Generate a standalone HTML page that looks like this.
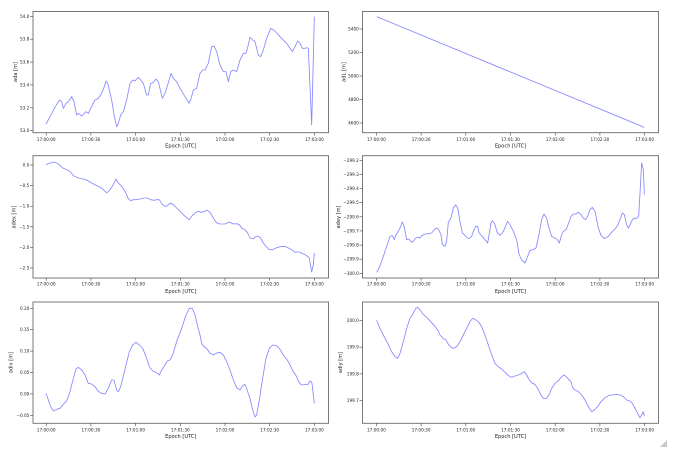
<!DOCTYPE html>
<html><head><meta charset="utf-8"><style>
html,body{margin:0;padding:0;background:#fff;}
svg{display:block;}
text{font-family:"DejaVu Sans","Liberation Sans",sans-serif;fill:#222;}
.t{font-size:4.2px;}
.l{font-size:5.1px;}
.ax{fill:none;stroke:#6a6a6a;stroke-width:0.9;}
.tk{stroke:#444;stroke-width:0.6;}
.d{fill:none;stroke:#8787ff;stroke-width:0.85;vector-effect:non-scaling-stroke;stroke-linejoin:round;}
</style></head><body>
<svg width="690" height="451" viewBox="0 0 690 451" xmlns="http://www.w3.org/2000/svg">
<rect width="690" height="451" fill="#fff"/>

<!-- ============ TOP LEFT ============ -->
<polyline class="d" transform="translate(0,0) scale(0.33333)" points="138,372 150,350 165,322 178,300 185,305 190,325 198,310 205,305 215,290 222,305 230,345 235,340 245,348 258,335 265,340 272,325 285,300 295,295 305,280 312,262 318,243 323,250 335,300 343,350 350,380 355,370 362,345 370,335 380,300 390,250 398,240 405,243 415,232 422,240 430,250 440,285 445,285 452,250 460,248 468,237 475,245 487,295 495,280 503,255 513,220 520,235 530,245 540,265 555,290 567,310 572,300 580,270 590,265 600,220 608,210 615,210 625,190 635,140 642,138 650,155 660,195 670,215 678,215 685,245 692,215 700,210 710,215 720,180 730,160 738,160 745,135 750,112 758,120 765,125 775,165 782,170 790,150 800,115 812,85 822,90 840,110 860,130 877,155 885,140 893,123 900,130 907,145 915,145 920,143 925,145 935,375 943,50"/>
<rect class="ax" x="33" y="11.5" width="295.5" height="121.2"/>
<g class="tk">
<line x1="30" y1="130.7" x2="33" y2="130.7"/><line x1="30" y1="107.8" x2="33" y2="107.8"/><line x1="30" y1="84.9" x2="33" y2="84.9"/><line x1="30" y1="62.1" x2="33" y2="62.1"/><line x1="30" y1="39.2" x2="33" y2="39.2"/><line x1="30" y1="16.3" x2="33" y2="16.3"/>
</g>
<g class="t" text-anchor="end">
<text x="29.3" y="132.2">53.0</text><text x="29.3" y="109.3">53.2</text><text x="29.3" y="86.4">53.4</text><text x="29.3" y="63.6">53.6</text><text x="29.3" y="40.7">53.8</text><text x="29.3" y="17.8">54.0</text>
</g>
<text class="l" text-anchor="middle" transform="translate(16.8,72) rotate(-90)">ada [m]</text>

<!-- ============ TOP RIGHT ============ -->
<polyline class="d" points="376.7,16.7 644.3,127.3"/>
<rect class="ax" x="362.5" y="11.5" width="296" height="121.2"/>
<g class="tk">
<line x1="359.5" y1="123" x2="362.5" y2="123"/><line x1="359.5" y1="99.5" x2="362.5" y2="99.5"/><line x1="359.5" y1="76" x2="362.5" y2="76"/><line x1="359.5" y1="52.5" x2="362.5" y2="52.5"/><line x1="359.5" y1="29" x2="362.5" y2="29"/>
</g>
<g class="t" text-anchor="end">
<text x="358.8" y="124.5">4600</text><text x="358.8" y="101">4800</text><text x="358.8" y="77.5">5000</text><text x="358.8" y="54">5200</text><text x="358.8" y="30.5">5400</text>
</g>
<text class="l" text-anchor="middle" transform="translate(345.5,72) rotate(-90)">adL [m]</text>

<!-- ============ MIDDLE LEFT ============ -->
<polyline class="d" transform="translate(0,148) scale(0.33333)" points="138,50 150,45 160,42 170,45 180,52 188,60 200,65 210,70 220,83 235,90 250,93 262,97 275,105 290,113 300,117 310,125 320,135 330,125 340,110 348,93 355,105 365,115 375,130 385,152 392,158 400,155 410,155 420,153 432,150 440,150 452,155 462,157 470,155 478,155 485,167 495,175 502,173 512,165 520,170 530,180 540,190 555,205 567,215 575,205 585,195 595,190 605,193 612,190 622,187 630,193 640,210 650,225 660,228 675,228 688,222 700,228 710,227 718,230 725,240 735,245 743,255 750,270 760,272 768,265 775,265 782,270 790,285 800,297 808,305 818,305 828,300 840,296 855,295 865,300 875,305 885,313 892,312 900,312 905,316 915,320 925,327 928,330 935,372 940,350 943,315"/>
<rect class="ax" x="33" y="155.7" width="295.5" height="122.3"/>
<g class="tk">
<line x1="30" y1="165" x2="33" y2="165"/><line x1="30" y1="185.6" x2="33" y2="185.6"/><line x1="30" y1="206.2" x2="33" y2="206.2"/><line x1="30" y1="226.8" x2="33" y2="226.8"/><line x1="30" y1="247.4" x2="33" y2="247.4"/><line x1="30" y1="268" x2="33" y2="268"/>
</g>
<g class="t" text-anchor="end">
<text x="29.3" y="166.5">0.0</text><text x="29.3" y="187.1">−0.5</text><text x="29.3" y="207.7">−1.0</text><text x="29.3" y="228.3">−1.5</text><text x="29.3" y="248.9">−2.0</text><text x="29.3" y="269.5">−2.5</text>
</g>
<text class="l" text-anchor="middle" transform="translate(15.3,217) rotate(-90)">adex [m]</text>

<!-- ============ MIDDLE RIGHT ============ -->
<polyline class="d" transform="translate(345,148) scale(0.33333)" points="95,373 100,365 110,340 120,310 130,280 135,265 142,263 148,275 152,262 160,250 165,240 172,222 178,238 185,275 192,273 200,283 205,280 212,270 218,268 225,270 230,263 240,258 250,257 260,255 268,245 275,240 280,243 288,260 292,290 300,295 305,280 310,223 318,210 325,180 332,170 338,180 345,220 352,255 360,262 367,270 372,272 380,265 385,250 392,235 398,235 402,255 410,263 420,275 428,285 432,262 438,225 443,218 450,230 457,255 465,262 472,255 480,240 487,220 495,230 505,250 515,275 522,318 530,336 540,345 548,325 555,307 565,305 573,300 580,270 590,215 597,198 605,210 612,240 620,265 630,270 637,275 643,285 650,260 655,250 663,245 670,228 678,205 685,198 692,198 700,193 708,200 715,210 722,215 728,205 735,185 742,178 750,190 760,240 768,262 778,272 790,265 800,253 810,243 818,232 825,215 832,195 838,200 845,230 850,240 858,225 862,215 868,210 873,212 878,208 881,205 887,100 890,45 895,65 898,140"/>
<rect class="ax" x="362.5" y="155.7" width="296" height="122.3"/>
<g class="tk">
<line x1="359.5" y1="160.3" x2="362.5" y2="160.3"/><line x1="359.5" y1="174.4" x2="362.5" y2="174.4"/><line x1="359.5" y1="188.6" x2="362.5" y2="188.6"/><line x1="359.5" y1="202.7" x2="362.5" y2="202.7"/><line x1="359.5" y1="216.8" x2="362.5" y2="216.8"/><line x1="359.5" y1="230.9" x2="362.5" y2="230.9"/><line x1="359.5" y1="245.1" x2="362.5" y2="245.1"/><line x1="359.5" y1="259.2" x2="362.5" y2="259.2"/><line x1="359.5" y1="273.3" x2="362.5" y2="273.3"/>
</g>
<g class="t" text-anchor="end">
<text x="358.8" y="161.8">−299.2</text><text x="358.8" y="175.9">−299.3</text><text x="358.8" y="190.1">−299.4</text><text x="358.8" y="204.2">−299.5</text><text x="358.8" y="218.3">−299.6</text><text x="358.8" y="232.4">−299.7</text><text x="358.8" y="246.6">−299.8</text><text x="358.8" y="260.7">−299.9</text><text x="358.8" y="274.8">−300.0</text>
</g>
<text class="l" text-anchor="middle" transform="translate(340,217) rotate(-90)">adey [m]</text>

<!-- ============ BOTTOM LEFT ============ -->
<polyline class="d" transform="translate(0,295) scale(0.33333)" points="138,295 145,315 152,335 160,348 170,343 180,340 190,328 200,318 210,290 220,250 228,222 235,217 245,225 255,240 265,265 275,267 285,275 295,289 305,295 315,297 325,280 335,255 342,255 350,285 355,290 362,275 370,243 378,210 388,170 398,150 408,142 418,150 428,160 438,185 448,215 458,228 468,232 478,240 485,225 492,215 502,198 510,195 518,180 530,140 545,100 558,60 568,40 577,40 585,60 592,90 600,120 605,145 612,155 620,160 630,175 640,180 648,175 660,172 670,180 680,200 690,225 700,255 710,278 720,285 728,272 735,268 743,290 750,310 758,345 765,366 770,360 778,315 788,250 798,190 808,160 818,150 830,152 838,160 850,180 862,195 870,210 880,230 890,245 895,258 902,268 910,270 918,268 925,268 928,260 932,258 936,265 940,300 943,325"/>
<rect class="ax" x="33" y="302" width="295.5" height="121.3"/>
<g class="tk">
<line x1="30" y1="308.3" x2="33" y2="308.3"/><line x1="30" y1="329.7" x2="33" y2="329.7"/><line x1="30" y1="351.1" x2="33" y2="351.1"/><line x1="30" y1="372.5" x2="33" y2="372.5"/><line x1="30" y1="393.9" x2="33" y2="393.9"/><line x1="30" y1="415.3" x2="33" y2="415.3"/>
</g>
<g class="t" text-anchor="end">
<text x="29.3" y="309.8">0.20</text><text x="29.3" y="331.2">0.15</text><text x="29.3" y="352.6">0.10</text><text x="29.3" y="374">0.05</text><text x="29.3" y="395.4">0.00</text><text x="29.3" y="416.8">−0.05</text>
</g>
<text class="l" text-anchor="middle" transform="translate(12.3,362.5) rotate(-90)">adix [m]</text>

<!-- ============ BOTTOM RIGHT ============ -->
<polyline class="d" transform="translate(345,295) scale(0.33333)" points="95,76 105,100 115,120 128,145 140,170 150,185 158,190 165,175 175,140 185,100 195,70 205,55 212,40 218,37 225,45 235,58 248,70 260,83 272,97 280,108 285,120 295,130 303,135 310,148 318,157 325,160 335,155 345,140 355,120 365,100 375,80 383,70 390,73 400,80 410,95 418,115 425,135 435,165 442,185 450,205 460,215 470,222 480,232 490,242 500,247 510,243 520,240 530,235 538,230 545,240 553,255 562,265 570,268 578,280 588,300 595,310 605,310 612,300 620,280 630,265 642,255 650,245 658,240 668,250 678,260 683,278 690,285 700,290 710,300 720,315 730,335 740,350 748,345 758,335 768,320 778,310 785,305 795,300 805,300 815,298 825,300 835,305 845,315 855,318 862,325 870,340 878,355 885,368 890,360 895,350 898,363"/>
<rect class="ax" x="362.5" y="302" width="296" height="121.3"/>
<g class="tk">
<line x1="359.5" y1="320.3" x2="362.5" y2="320.3"/><line x1="359.5" y1="347.1" x2="362.5" y2="347.1"/><line x1="359.5" y1="373.9" x2="362.5" y2="373.9"/><line x1="359.5" y1="400.7" x2="362.5" y2="400.7"/>
</g>
<g class="t" text-anchor="end">
<text x="358.8" y="321.8">200.0</text><text x="358.8" y="348.6">199.9</text><text x="358.8" y="375.4">199.8</text><text x="358.8" y="402.2">199.7</text>
</g>
<text class="l" text-anchor="middle" transform="translate(342,362.5) rotate(-90)">adiy [m]</text>

<!-- ============ X AXES ============ -->
<g class="tk">
<line x1="46.2" y1="132.7" x2="46.2" y2="135.5"/><line x1="90.9" y1="132.7" x2="90.9" y2="135.5"/><line x1="135.6" y1="132.7" x2="135.6" y2="135.5"/><line x1="180.3" y1="132.7" x2="180.3" y2="135.5"/><line x1="225" y1="132.7" x2="225" y2="135.5"/><line x1="269.7" y1="132.7" x2="269.7" y2="135.5"/><line x1="314.4" y1="132.7" x2="314.4" y2="135.5"/>
<line x1="46.2" y1="278" x2="46.2" y2="280.8"/><line x1="90.9" y1="278" x2="90.9" y2="280.8"/><line x1="135.6" y1="278" x2="135.6" y2="280.8"/><line x1="180.3" y1="278" x2="180.3" y2="280.8"/><line x1="225" y1="278" x2="225" y2="280.8"/><line x1="269.7" y1="278" x2="269.7" y2="280.8"/><line x1="314.4" y1="278" x2="314.4" y2="280.8"/>
<line x1="46.2" y1="423.3" x2="46.2" y2="426.1"/><line x1="90.9" y1="423.3" x2="90.9" y2="426.1"/><line x1="135.6" y1="423.3" x2="135.6" y2="426.1"/><line x1="180.3" y1="423.3" x2="180.3" y2="426.1"/><line x1="225" y1="423.3" x2="225" y2="426.1"/><line x1="269.7" y1="423.3" x2="269.7" y2="426.1"/><line x1="314.4" y1="423.3" x2="314.4" y2="426.1"/>
<line x1="376.4" y1="132.7" x2="376.4" y2="135.5"/><line x1="421.1" y1="132.7" x2="421.1" y2="135.5"/><line x1="465.8" y1="132.7" x2="465.8" y2="135.5"/><line x1="510.5" y1="132.7" x2="510.5" y2="135.5"/><line x1="555.2" y1="132.7" x2="555.2" y2="135.5"/><line x1="599.9" y1="132.7" x2="599.9" y2="135.5"/><line x1="644.6" y1="132.7" x2="644.6" y2="135.5"/>
<line x1="376.4" y1="278" x2="376.4" y2="280.8"/><line x1="421.1" y1="278" x2="421.1" y2="280.8"/><line x1="465.8" y1="278" x2="465.8" y2="280.8"/><line x1="510.5" y1="278" x2="510.5" y2="280.8"/><line x1="555.2" y1="278" x2="555.2" y2="280.8"/><line x1="599.9" y1="278" x2="599.9" y2="280.8"/><line x1="644.6" y1="278" x2="644.6" y2="280.8"/>
<line x1="376.4" y1="423.3" x2="376.4" y2="426.1"/><line x1="421.1" y1="423.3" x2="421.1" y2="426.1"/><line x1="465.8" y1="423.3" x2="465.8" y2="426.1"/><line x1="510.5" y1="423.3" x2="510.5" y2="426.1"/><line x1="555.2" y1="423.3" x2="555.2" y2="426.1"/><line x1="599.9" y1="423.3" x2="599.9" y2="426.1"/><line x1="644.6" y1="423.3" x2="644.6" y2="426.1"/>
</g>

<g class="t" text-anchor="middle">
<text x="46.2" y="140.8">17:00:00</text><text x="90.9" y="140.8">17:00:30</text><text x="135.6" y="140.8">17:01:00</text><text x="180.3" y="140.8">17:01:30</text><text x="225" y="140.8">17:02:00</text><text x="269.7" y="140.8">17:02:30</text><text x="314.4" y="140.8">17:03:00</text>
<text x="376.4" y="140.8">17:00:00</text><text x="421.1" y="140.8">17:00:30</text><text x="465.8" y="140.8">17:01:00</text><text x="510.5" y="140.8">17:01:30</text><text x="555.2" y="140.8">17:02:00</text><text x="599.9" y="140.8">17:02:30</text><text x="644.6" y="140.8">17:03:00</text>
<text x="46.2" y="285.5">17:00:00</text><text x="90.9" y="285.5">17:00:30</text><text x="135.6" y="285.5">17:01:00</text><text x="180.3" y="285.5">17:01:30</text><text x="225" y="285.5">17:02:00</text><text x="269.7" y="285.5">17:02:30</text><text x="314.4" y="285.5">17:03:00</text>
<text x="376.4" y="285.5">17:00:00</text><text x="421.1" y="285.5">17:00:30</text><text x="465.8" y="285.5">17:01:00</text><text x="510.5" y="285.5">17:01:30</text><text x="555.2" y="285.5">17:02:00</text><text x="599.9" y="285.5">17:02:30</text><text x="644.6" y="285.5">17:03:00</text>
<text x="46.2" y="431.3">17:00:00</text><text x="90.9" y="431.3">17:00:30</text><text x="135.6" y="431.3">17:01:00</text><text x="180.3" y="431.3">17:01:30</text><text x="225" y="431.3">17:02:00</text><text x="269.7" y="431.3">17:02:30</text><text x="314.4" y="431.3">17:03:00</text>
<text x="376.4" y="431.3">17:00:00</text><text x="421.1" y="431.3">17:00:30</text><text x="465.8" y="431.3">17:01:00</text><text x="510.5" y="431.3">17:01:30</text><text x="555.2" y="431.3">17:02:00</text><text x="599.9" y="431.3">17:02:30</text><text x="644.6" y="431.3">17:03:00</text>
</g>

<g class="l" text-anchor="middle">
<text x="180.8" y="147.5">Epoch [UTC]</text>
<text x="510.5" y="147.5">Epoch [UTC]</text>
<text x="180.8" y="293">Epoch [UTC]</text>
<text x="510.5" y="293">Epoch [UTC]</text>
<text x="180.8" y="438.2">Epoch [UTC]</text>
<text x="510.5" y="438.2">Epoch [UTC]</text>
</g>

<polygon points="660,447 667,440 667,447" fill="#c8c8c8"/>
</svg>
</body></html>
